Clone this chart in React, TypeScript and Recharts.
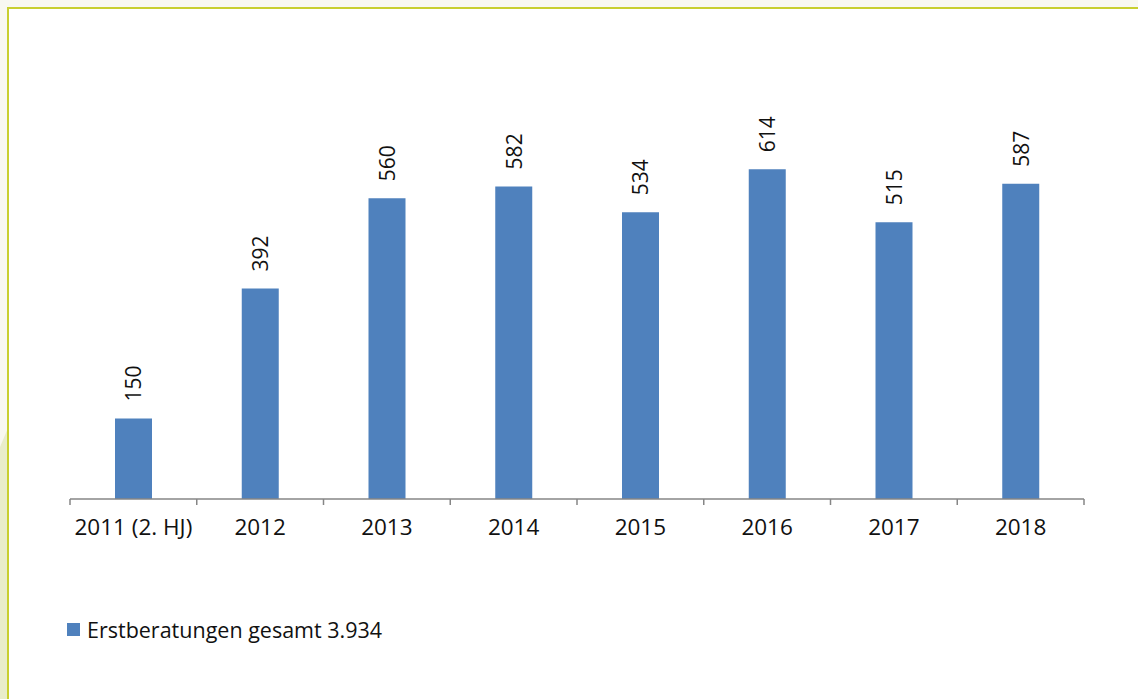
import React from 'react';
import { BarChart, Bar, XAxis, YAxis, LabelList, Legend } from 'recharts';

const categories = ['2011 (2. HJ)', '2012', '2013', '2014', '2015', '2016', '2017', '2018'];
const values = [150, 392, 560, 582, 534, 614, 515, 587];
const seriesName = 'Erstberatungen gesamt 3.934';
const yDomain: [number, number] = [0, 700];

const data = categories.map((c, i) => ({ category: c, value: values[i] }));

const FONT = '"Open Sans", sans-serif';
const BAR = '#4f81bd';
const AXIS = '#868686';

const CategoryTick = (props: any) => {
  const { x, y, payload, index } = props;
  const half = payload && typeof payload.offset === 'number' && payload.offset > 0 ? payload.offset : 63.4;
  const last = index === categories.length - 1;
  return (
    <g>
      <line x1={x - half} y1={y} x2={x - half} y2={y + 6} stroke={AXIS} strokeWidth={1.5} />
      {last && <line x1={x + half} y1={y} x2={x + half} y2={y + 6} stroke={AXIS} strokeWidth={1.5} />}
      <text x={x} y={y + 27} textAnchor="middle" dominantBaseline="central" fontFamily={FONT} fontSize={22.5} fill="#111">
        {payload.value}
      </text>
    </g>
  );
};

const ValueLabel = (props: any) => {
  const { x, y, width, value } = props;
  const cx = x + width / 2;
  const ty = y - 17;
  return (
    <text
      x={cx}
      y={ty}
      transform={`rotate(-90 ${cx} ${ty})`}
      textAnchor="start"
      dominantBaseline="central"
      fontFamily={FONT}
      fontSize={21}
      fill="#111"
    >
      {value}
    </text>
  );
};

const LegendContent = (props: any) => {
  const p = (props.payload && props.payload[0]) || { value: seriesName, color: BAR };
  return (
    <div style={{ display: 'flex', alignItems: 'center', fontFamily: FONT, fontSize: 21.5, color: '#111', lineHeight: '27px' }}>
      <span style={{ display: 'inline-block', width: 13, height: 13, background: p.color || BAR, marginRight: 7 }} />
      <span>{p.value}</span>
    </div>
  );
};

export default function App() {
  return (
    <div style={{ position: 'absolute', left: 0, top: 0, width: 1138, height: 699, background: '#f8f8f0', overflow: 'hidden' }}>
      <svg width={1138} height={699} style={{ position: 'absolute', left: 0, top: 0 }}>
        <polygon points="0,447 8,428 8,699 0,699" fill="#e9edca" />
      </svg>
      <div
        style={{
          position: 'absolute',
          left: 7,
          top: 7,
          width: 1150,
          height: 710,
          background: '#ffffff',
          borderTop: '2px solid #c8cf2f',
          borderLeft: '2px solid #c8cf2f',
        }}
      />
      <div style={{ position: 'absolute', left: 0, top: 0 }}>
        <BarChart width={1138} height={699} data={data} margin={{ top: 123, right: 54, bottom: 133, left: 70 }}>
          <XAxis
            dataKey="category"
            axisLine={{ stroke: AXIS, strokeWidth: 1.5 }}
            tickLine={false}
            tickSize={0}
            tickMargin={0}
            interval={0}
            tick={<CategoryTick />}
            height={40}
          />
          <YAxis hide domain={yDomain} />
          <Legend
            content={<LegendContent />}
            wrapperStyle={{ position: 'absolute', left: 67, top: 616, width: 'auto', bottom: 'auto', height: 27 }}
          />
          <Bar dataKey="value" name={seriesName} fill={BAR} barSize={37} isAnimationActive={false}>
            <LabelList dataKey="value" content={<ValueLabel />} />
          </Bar>
        </BarChart>
      </div>
    </div>
  );
}
